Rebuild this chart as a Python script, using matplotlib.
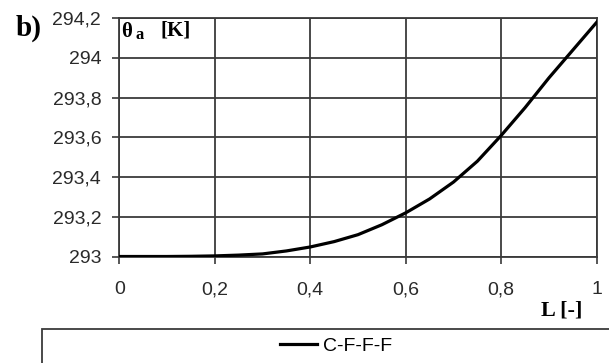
import numpy as np
import matplotlib
matplotlib.use("Agg")
import matplotlib.pyplot as plt
from matplotlib.patches import Rectangle

# ===============================
# Datos
# ===============================
L = [0.0, 0.05, 0.1, 0.15, 0.2, 0.25, 0.3, 0.35, 0.4, 0.45, 0.5,
     0.55, 0.6, 0.65, 0.7, 0.75, 0.8, 0.85, 0.9, 0.95, 1.0]
theta_a = [293.000, 293.000, 293.000, 293.001, 293.003, 293.007, 293.013,
           293.028, 293.048, 293.075, 293.110, 293.160, 293.220, 293.290,
           293.375, 293.480, 293.610, 293.750, 293.900, 294.040, 294.180]
series_label = "C-F-F-F"

x_ticks = [0, 0.2, 0.4, 0.6, 0.8, 1.0]
x_ticklabels = ["0", "0,2", "0,4", "0,6", "0,8", "1"]
y_ticks = [293.0, 293.2, 293.4, 293.6, 293.8, 294.0, 294.2]
y_ticklabels = ["293", "293,2", "293,4", "293,6", "293,8", "294", "294,2"]

# ===============================
# Plot
# ===============================
W, H = 609, 363
fig = plt.figure(figsize=(W / 100, H / 100), dpi=100)


def px(x, y):
    # pixel coords -> figure fraction
    return x / W, 1 - y / H


left, top = px(119.3, 18.3)
right, bottom = px(596.7, 256.5)
ax = fig.add_axes([left, bottom, right - left, top - bottom])

grid_col = "#3a3a3a"
ax.plot(L, theta_a, color="black", lw=2.3, label=series_label, zorder=3)

ax.set_xlim(0, 1)
ax.set_ylim(293.0, 294.2)
ax.set_xticks(x_ticks)
ax.set_xticklabels(x_ticklabels)
ax.set_yticks(y_ticks)
ax.set_yticklabels(y_ticklabels)
ax.grid(True, color=grid_col, lw=1.3)
for sp in ax.spines.values():
    sp.set_color(grid_col)
    sp.set_linewidth(1.3)

for lab in ax.get_xticklabels() + ax.get_yticklabels():
    lab.set_fontfamily("Liberation Sans")
    lab.set_fontsize(14)
    lab.set_color("#2a2a2a")
ax.tick_params(axis="y", direction="out", length=5, width=1.2, color=grid_col, pad=8)
ax.tick_params(axis="x", direction="out", length=5, width=1.2, color=grid_col, pad=13)
# the "1" sits a little higher in the original
ax.get_xticklabels()[-1].set_y(0.004)

serif = "Liberation Serif"
fig.text(*px(16, 36), "b)", fontsize=21, fontweight="bold", family=serif,
         ha="left", va="baseline")
fig.text(*px(121, 37), "θ", fontsize=15, fontweight="bold", family=serif,
         ha="left", va="baseline")
fig.text(*px(135, 39), "a", fontsize=12, fontweight="bold", family=serif,
         ha="left", va="baseline")
fig.text(*px(161, 36), "[K]", fontsize=15, fontweight="bold", family=serif,
         ha="left", va="baseline")
fig.text(*px(541, 316), "L [-]", fontsize=16, fontweight="bold", family=serif,
         ha="left", va="baseline")

# legend box (cut by the figure edge like in the original)
x0, y0 = px(42, 329)
fig.patches.append(Rectangle((x0, y0 - 0.3), 1.2, 0.3, transform=fig.transFigure,
                             facecolor="white", edgecolor=grid_col, lw=1.3))
fig.legend(loc="center left", bbox_to_anchor=px(270, 346), frameon=False,
           borderpad=0, handlelength=1.9, handletextpad=0.3,
           prop=dict(family="Liberation Sans", size=14))

fig.savefig("out.png", dpi=100)
